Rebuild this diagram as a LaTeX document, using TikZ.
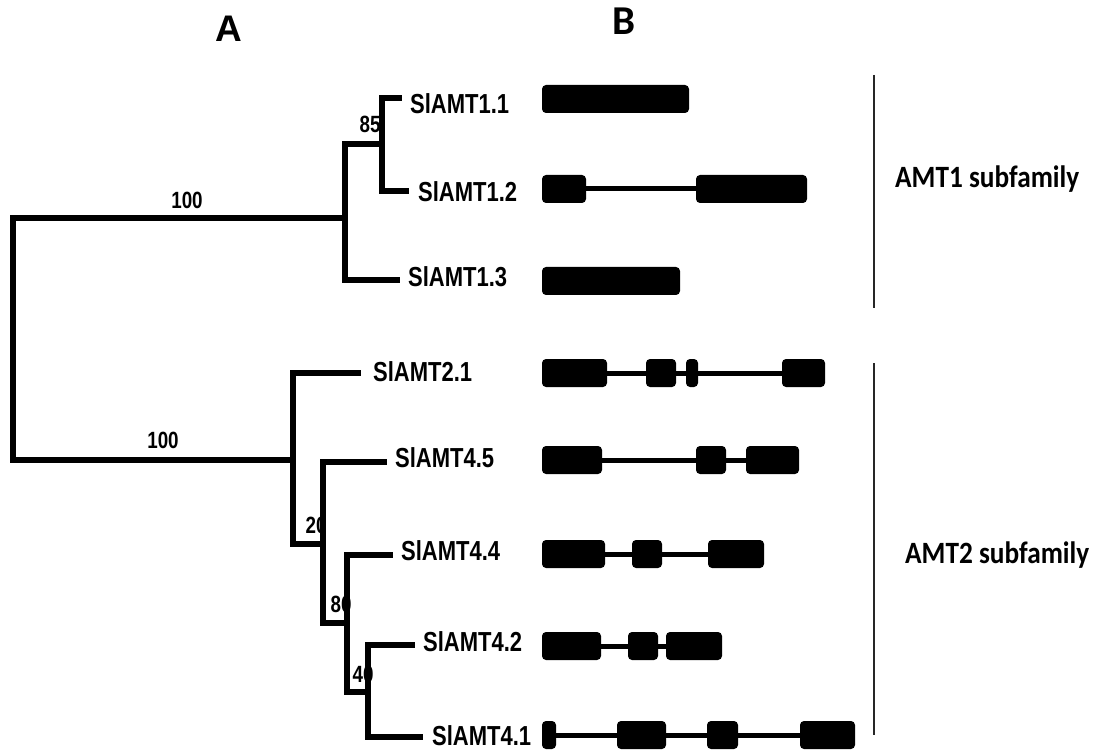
\documentclass[tikz,border=0pt]{standalone}
\usepackage{fontspec}
\newfontfamily\genefont[FakeStretch=0.8]{Liberation Sans}
\newfontfamily\panelAfont{Liberation Sans}
\newfontfamily\subfont[FakeStretch=0.88]{Carlito}
\newfontfamily\panelBfont{Carlito}
\tikzset{
  branch/.style={line width=5.5pt, line join=miter, line cap=rect},
  gene/.style={inner sep=0pt, anchor=base west, font=\genefont\bfseries\fontsize{27.5}{27.5}\selectfont},
  boot/.style={inner sep=0pt, anchor=base, font=\genefont\bfseries\fontsize{23.5}{23.5}\selectfont},
  exon/.style={rectangle, rounded corners=4pt, fill=black, draw=none, inner sep=0pt, minimum height=28pt},
  intron/.style={line width=5pt},
  bracket/.style={line width=2.2pt, draw=black!85},
  family/.style={inner sep=0pt, anchor=base west, font=\subfont\bfseries\fontsize{31}{31}\selectfont},
}
\newcommand\exonbox[4]{\node[exon, minimum width={(#3-#2)*1pt}] (#1) at ({(#2+#3)/2},#4) {};}
\begin{document}
\begin{tikzpicture}[x=1pt, y=-1pt]
\fill[white] (0,0) rectangle (1104,754);
\path[use as bounding box] (0,0) rectangle (1104,754);

% panel letters
\node[inner sep=0pt, anchor=base, font=\panelAfont\bfseries\fontsize{37}{37}\selectfont] (pA) at (229,42) {A};
\node[inner sep=0pt, anchor=base, font=\panelBfont\bfseries\fontsize{41}{41}\selectfont] (pB) at (624,35) {B};

% ---------- tree (panel A) ----------
\coordinate (root) at (13,339);
\coordinate (n1)   at (345,218);
\coordinate (n11)  at (382,144);
\coordinate (n2)   at (293,460);
\coordinate (n21)  at (323,544);
\coordinate (n22)  at (347,623);
\coordinate (n23)  at (368,692);
% leaf ends
\coordinate (t11) at (399,98);
\coordinate (t12) at (406,191);
\coordinate (t13) at (397,280);
\coordinate (t21) at (358,373);
\coordinate (t45) at (384,462);
\coordinate (t44) at (390,555);
\coordinate (t42) at (412,645);
\coordinate (t41) at (420,737);

\draw[branch] (root) |- (n1);
\draw[branch] (root) |- (n2);
\draw[branch] (n1) |- (n11);
\draw[branch] (n1) |- (t13);
\draw[branch] (n11) |- (t11);
\draw[branch] (n11) |- (t12);
\draw[branch] (n2) |- (t21);
\draw[branch] (n2) |- (n21);
\draw[branch] (n21) |- (t45);
\draw[branch] (n21) |- (n22);
\draw[branch] (n22) |- (t44);
\draw[branch] (n22) |- (n23);
\draw[branch] (n23) |- (t42);
\draw[branch] (n23) |- (t41);

% bootstrap values
\node[boot] (b1)  at (187,209) {100};
\node[boot] (b2)  at (163,448) {100};
\node[boot] (b11) at (370,133) {85};
\node[boot] (b21) at (316,533) {20};
\node[boot] (b22) at (341,612) {80};
\node[boot] (b23) at (363,682) {40};

% gene names
\node[gene] (g11) at (410,113.5) {SlAMT1.1};
\node[gene] (g12) at (418,201.5) {SlAMT1.2};
\node[gene] (g13) at (408,286.5) {SlAMT1.3};
\node[gene] (g21) at (373,381.5) {SlAMT2.1};
\node[gene] (g45) at (395,467) {SlAMT4.5};
\node[gene] (g44) at (401,560) {SlAMT4.4};
\node[gene] (g42) at (423,651) {SlAMT4.2};
\node[gene] (g41) at (432,745) {SlAMT4.1};

% ---------- gene structures (panel B) ----------
% SlAMT1.1
\exonbox{e11a}{542}{689}{99}
% SlAMT1.2
\exonbox{e12a}{542}{586}{189}
\exonbox{e12b}{696}{807}{189}
\draw[intron] (e12a) -- (e12b);
% SlAMT1.3
\exonbox{e13a}{542}{680}{281}
% SlAMT2.1
\exonbox{e21a}{542}{607}{373}
\exonbox{e21b}{646}{676}{373}
\exonbox{e21c}{686}{698}{373}
\exonbox{e21d}{782}{825}{373}
\draw[intron] (e21a) -- (e21b);
\draw[intron] (e21b) -- (e21c);
\draw[intron] (e21c) -- (e21d);
% SlAMT4.5
\exonbox{e45a}{542}{602}{460}
\exonbox{e45b}{696}{726}{460}
\exonbox{e45c}{746}{799}{460}
\draw[intron] (e45a) -- (e45b);
\draw[intron] (e45b) -- (e45c);
% SlAMT4.4
\exonbox{e44a}{542}{605}{554}
\exonbox{e44b}{632}{662}{554}
\exonbox{e44c}{708}{764}{554}
\draw[intron] (e44a) -- (e44b);
\draw[intron] (e44b) -- (e44c);
% SlAMT4.2
\exonbox{e42a}{542}{601}{646}
\exonbox{e42b}{628}{658}{646}
\exonbox{e42c}{666}{722}{646}
\draw[intron] (e42a) -- (e42b);
\draw[intron] (e42b) -- (e42c);
% SlAMT4.1
\exonbox{e41a}{542}{556}{735}
\exonbox{e41b}{617}{666}{735}
\exonbox{e41c}{707}{738}{735}
\exonbox{e41d}{800}{855}{735}
\draw[intron] (e41a) -- (e41b);
\draw[intron] (e41b) -- (e41c);
\draw[intron] (e41c) -- (e41d);

% ---------- subfamily brackets ----------
\coordinate (s1top) at (874,75);
\coordinate (s1bot) at (874,308);
\coordinate (s2top) at (874,363);
\coordinate (s2bot) at (874,735);
\draw[bracket] (s1top) -- (s1bot);
\draw[bracket] (s2top) -- (s2bot);
\node[family] (f1) at (895,188) {AMT1 subfamily};
\node[family] (f2) at (905,563) {AMT2 subfamily};
\end{tikzpicture}
\end{document}
